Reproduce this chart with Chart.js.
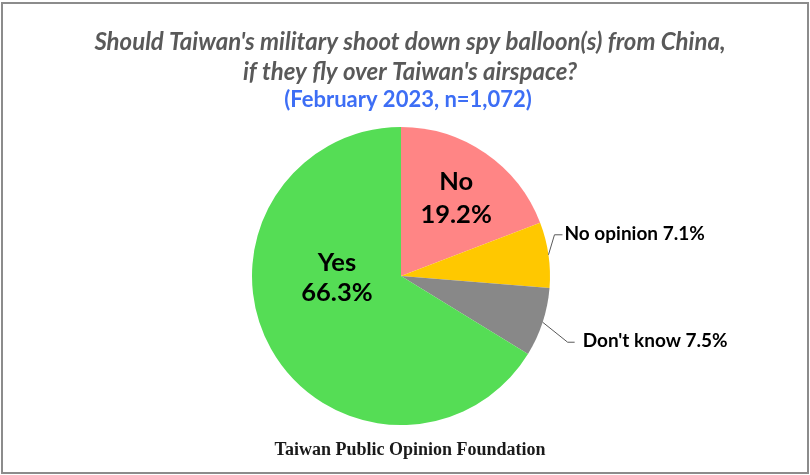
<!DOCTYPE html>
<html>
<head>
<meta charset="utf-8">
<script src="https://cdn.jsdelivr.net/npm/chart.js@4.4.0/dist/chart.umd.min.js"></script>
<style>
  html, body { margin: 0; padding: 0; background: #fff; }
  #wrap { width: 810px; height: 475px; }
</style>
</head>
<body>
<div id="wrap"><canvas id="pie" width="810" height="475"></canvas></div>
<script>
// data
const categories = ["No", "No opinion", "Don't know", "Yes"]
const shares = [19.2, 7.1, 7.5, 66.3]
const sliceColors = ["#FF8585", "#FFC800", "#888888", "#55DD55"]

const titleLines = [
    "Should Taiwan's military shoot down spy balloon(s) from China,",
    "if they fly over Taiwan's airspace?"
]
const subtitle = "(February 2023, n=1,072)"
const footer = "Taiwan Public Opinion Foundation"

const SANS = "Lato, 'Open Sans', sans-serif"

// fit a font size so that a text gets a given width
function fitFont(ctx, text, style, family, width){
    let size = 34
    while (size > 8) {
        ctx.font = `${style} ${size}px ${family}`
        if (ctx.measureText(text).width <= width) break
        size -= 0.5
    }
    return ctx.font
}

const textsPlugin = {
    id: 'texts',
    afterDraw(chart){
        const ctx = chart.ctx
        ctx.save()

        // frame
        ctx.strokeStyle = "#8c8c8c"
        ctx.lineWidth = 2
        ctx.strokeRect(2, 3, 806, 470)

        ctx.textAlign = "center"
        ctx.textBaseline = "middle"

        ctx.fillStyle = "#595959"
        ctx.font = fitFont(ctx, titleLines[0], "italic bold", SANS, 634)
        ctx.fillText(titleLines[0], 410, 42)
        ctx.fillText(titleLines[1], 410, 72)

        ctx.fillStyle = "#3D6EF5"
        ctx.font = fitFont(ctx, subtitle, "bold", SANS, 252)
        ctx.fillText(subtitle, 408, 100)

        ctx.fillStyle = "#1a1a1a"
        ctx.font = fitFont(ctx, footer, "bold", "'Liberation Serif', serif", 273)
        ctx.fillText(footer, 410, 450)

        // labels on slices
        const arcs = chart.getDatasetMeta(0).data
        const inner = {0: [0.37, -0.63, -0.41], 3: [-0.43, -0.087, 0.114]}
        ctx.fillStyle = "#000"
        ctx.font = fitFont(ctx, "19.2%", "bold", SANS, 72)
        for (const i in inner) {
            const a = arcs[i]
            const r = a.outerRadius
            const [dx, dy1, dy2] = inner[i]
            ctx.fillText(categories[i], a.x + dx * r, a.y + dy1 * r)
            ctx.fillText(shares[i].toFixed(1) + "%", a.x + dx * r, a.y + dy2 * r)
        }

        // outside labels with leader lines
        const outside = {1: [6, -20, 8, 2], 2: [25, 20, 7, 8]}
        ctx.font = fitFont(ctx, "No opinion 7.1%", "bold", SANS, 142)
        ctx.textAlign = "left"
        ctx.strokeStyle = "#595959"
        ctx.lineWidth = 1
        for (const i in outside) {
            const a = arcs[i]
            const mid = (a.startAngle + a.endAngle) / 2
            const x0 = a.x + Math.cos(mid) * a.outerRadius
            const y0 = a.y + Math.sin(mid) * a.outerRadius
            const [ex, ey, len, gap] = outside[i]
            ctx.beginPath()
            ctx.moveTo(x0, y0)
            ctx.lineTo(x0 + ex, y0 + ey)
            ctx.lineTo(x0 + ex + len, y0 + ey)
            ctx.stroke()
            ctx.fillText(categories[i] + " " + shares[i].toFixed(1) + "%", x0 + ex + len + gap, y0 + ey - 1)
        }
        ctx.restore()
    }
}

new Chart(document.getElementById('pie'), {
    type: 'pie',
    data: {
        labels: categories,
        datasets: [{
            data: shares,
            backgroundColor: sliceColors,
            borderWidth: 0
        }]
    },
    options: {
        responsive: false,
        animation: false,
        layout: { padding: { top: 127, bottom: 50, left: 0, right: 8 } },
        plugins: {
            legend: { display: false },
            tooltip: { enabled: false },
            title: { display: false }
        }
    },
    plugins: [textsPlugin]
})
</script>
</body>
</html>
